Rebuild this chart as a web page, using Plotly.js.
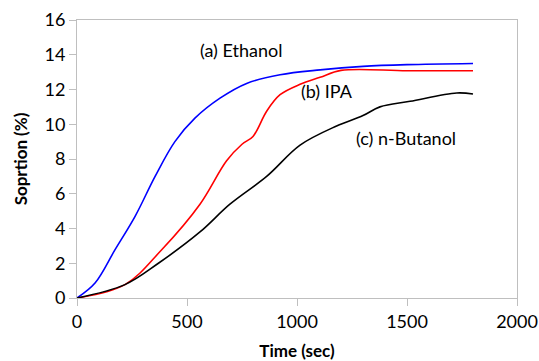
<!DOCTYPE html>
<html>
<head>
<meta charset="utf-8">
<script src="https://cdn.plot.ly/plotly-3.0.1.min.js"></script>
<style>html,body{margin:0;padding:0;background:#fff;}#chart{width:539px;height:361px;}</style>
</head>
<body>
<div id="chart"></div>
<script>
var ethanolT = [0, 82, 173, 264, 355, 445, 536, 650, 771, 923, 1105, 1300, 1500, 1800];
var ethanolY = [0, 0.86, 2.78, 4.7, 7.0, 9.0, 10.35, 11.5, 12.35, 12.85, 13.13, 13.33, 13.43, 13.5];
var ipaT = [0, 218, 385, 559, 680, 750, 800, 862, 923, 1014, 1105, 1200, 1500, 1800];
var ipaY = [0, 0.77, 2.78, 5.4, 7.9, 8.85, 9.3, 10.75, 11.7, 12.3, 12.7, 13.1, 13.08, 13.08];
var butanolT = [0, 218, 370, 559, 695, 862, 1014, 1180, 1300, 1377, 1514, 1726, 1800];
var butanolY = [0, 0.77, 2.0, 3.8, 5.4, 7.0, 8.8, 9.9, 10.5, 11.0, 11.32, 11.8, 11.74];
var labels = ["(a) Ethanol", "(b) IPA", "(c) n-Butanol"];
var labelX = [745, 1136, 1495];
var labelY = [14.25, 11.9, 9.2];

var FONT = "Lato, 'Open Sans', sans-serif";
function tr(x, y, c) {
  return {x: x, y: y, type: 'scatter', mode: 'lines', line: {color: c, width: 1.6, shape: 'spline', smoothing: 1}, hoverinfo: 'skip'};
}
var data = [tr(ethanolT, ethanolY, '#0000ff'), tr(ipaT, ipaY, '#ff0000'), tr(butanolT, butanolY, '#000000')];
var ann = labels.map(function (t, i) {
  return {x: labelX[i], y: labelY[i], xref: 'x', yref: 'y', text: t, showarrow: false, font: {family: FONT, size: 18, color: '#000'}};
});
var layout = {
  width: 539, height: 361,
  margin: {l: 77, r: 22, t: 20, b: 63},
  paper_bgcolor: '#fff', plot_bgcolor: '#fff',
  showlegend: false,
  font: {family: FONT, size: 17, color: '#000'},
  xaxis: {
    range: [0, 2000], tickvals: [0, 500, 1000, 1500, 2000], ticktext: ['0', '500', '1000', '1500', '2000'],
    showgrid: false, zeroline: false, showline: true, linecolor: '#bfbfbf', linewidth: 1, mirror: true,
    ticks: 'outside', ticklen: 7, tickcolor: '#bfbfbf', tickfont: {family: FONT, size: 18, color: '#000'},
    title: {text: '<b>Time (sec)</b>', font: {family: FONT, size: 17, color: '#000'}, standoff: 14}
  },
  yaxis: {
    range: [0, 16], tickvals: [0, 2, 4, 6, 8, 10, 12, 14, 16],
    showgrid: false, zeroline: false, showline: true, linecolor: '#bfbfbf', linewidth: 1, mirror: true,
    ticks: 'outside', ticklen: 7, tickcolor: '#bfbfbf', tickfont: {family: FONT, size: 18, color: '#000'},
    title: {text: '<b>Soprtion (%)</b>', font: {family: FONT, size: 17, color: '#000'}, standoff: 12}
  },
  annotations: ann
};
Plotly.newPlot('chart', data, layout, {staticPlot: true, displayModeBar: false});
</script>
</body>
</html>
